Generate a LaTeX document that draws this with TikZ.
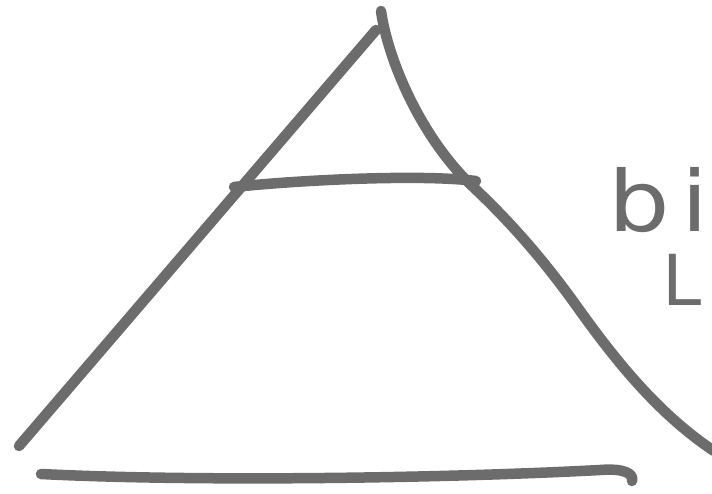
\documentclass[tikz,border=0pt]{standalone}
\usepackage{fontspec}
\setsansfont{DejaVu Sans}
\usepackage{tikz}
\usetikzlibrary{positioning, calc}

\definecolor{penGray}{RGB}{108,108,108}

\begin{document}
\begin{tikzpicture}[
    x=0.02cm, y=-0.02cm,
    marker/.style={draw=penGray, line width=0.21cm, line cap=round, line join=round},
    scrawl/.style={text=penGray, font=\sffamily\fontsize{48}{50}\selectfont, inner sep=0pt}
]
    \useasboundingbox (0,0) rectangle (712,493);
    \clip (0,0) rectangle (712,493);

    % corner points of the sketch
    \coordinate (apex) at (381,11);
    \coordinate (leftTop) at (376,30);
    \coordinate (leftFoot) at (19,446);
    \coordinate (barLeft) at (234,187);
    \coordinate (barRight) at (476,181);
    \coordinate (rightFoot) at (714,451);

    % triangle sides
    \draw [marker] (leftTop) -- (leftFoot);
    \draw [marker] (apex) .. controls (388,60) and (420,135) .. (470,184)
        .. controls (515,226) and (548,266) .. (578,308)
        .. controls (618,364) and (660,415) .. (rightFoot);

    % cross bar
    \draw [marker] (barLeft) .. controls (300,180) and (420,174) .. (barRight);

    % ground line
    \draw [marker] (41,474) .. controls (200,482) and (450,478) .. (600,470)
        .. controls (625,468) and (634,474) .. (632,481);

    % note at the right edge
    \node [scrawl, anchor=base west, xscale=1.15] (noteTop) at (608,231) {b\kern0.12em i};
    \node [scrawl, anchor=base west, font=\sffamily\fontsize{40}{42}\selectfont] (noteBottom) at (662,305) {L};
\end{tikzpicture}
\end{document}
